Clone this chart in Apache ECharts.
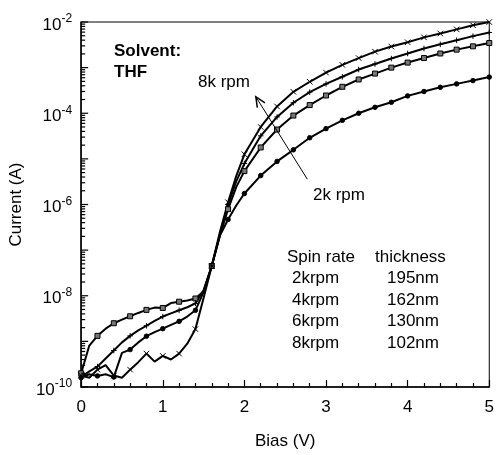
<!DOCTYPE html>
<html>
<head>
<meta charset="utf-8">
<script src="https://cdn.jsdelivr.net/npm/echarts@6/dist/echarts.min.js"></script>
<style>html,body{margin:0;padding:0;background:#fff}#c{width:497px;height:455px}</style>
</head>
<body>
<div id="c"></div>
<script>
// Bias voltages (V)
const biasV = [0,0.1,0.2,0.3,0.4,0.5,0.6,0.7,0.8,0.9,1.0,1.1,1.2,1.3,1.4,1.5,1.6,1.7,1.8,1.9,2.0,
  2.2,2.4,2.6,2.8,3.0,3.2,3.4,3.6,3.8,4.0,4.2,4.4,4.6,4.8,5.0];
// Current (A) for each spin rate
const cur2k = [1.6e-10,1.9e-10,1.75e-10,1.9e-10,1.65e-10,5.6e-10,6.6e-10,9.5e-10,1.3e-9,1.6e-9,1.9e-9,2.3e-9,2.75e-9,3.5e-9,4.8e-9,1.2e-8,4.5e-8,2.1e-7,4.7e-7,9.5e-7,1.74e-6,
  4.3e-6,8.8e-6,1.58e-5,2.9e-5,4.6e-5,7.0e-5,1.0e-4,1.35e-4,1.74e-4,2.4e-4,3.0e-4,3.7e-4,4.4e-4,5.2e-4,6.2e-4];
const cur4k = [2.0e-10,8.1e-10,1.32e-9,1.9e-9,2.5e-9,3.0e-9,3.55e-9,4.2e-9,4.9e-9,5.5e-9,5.4e-9,6.9e-9,7.4e-9,7.9e-9,8.7e-9,1.26e-8,4.5e-8,2.1e-7,7.9e-7,2.4e-6,5.4e-6,
  1.78e-5,4.4e-5,8.9e-5,1.51e-4,2.45e-4,3.8e-4,5.5e-4,7.4e-4,1.0e-3,1.29e-3,1.62e-3,2.04e-3,2.48e-3,2.93e-3,3.46e-3];
const cur6k = [1.66e-10,2.2e-10,2.8e-10,4.2e-10,6.3e-10,9.5e-10,1.32e-9,1.74e-9,2.2e-9,2.8e-9,3.5e-9,4.1e-9,4.8e-9,5.6e-9,6.8e-9,1.32e-8,4.5e-8,2.2e-7,1.0e-6,3.2e-6,7.9e-6,
  3.2e-5,8.3e-5,1.7e-4,2.9e-4,4.4e-4,6.3e-4,9.1e-4,1.2e-3,1.58e-3,2.04e-3,2.63e-3,3.24e-3,3.98e-3,4.9e-3,5.9e-3];
const cur8k = [1.78e-10,1.6e-10,2.4e-10,3.0e-10,1.78e-10,1.6e-10,2.4e-10,3.5e-10,5.4e-10,3.6e-10,4.8e-10,4.0e-10,5.4e-10,8.9e-10,1.86e-9,8.9e-9,4.5e-8,2.5e-7,1.12e-6,4.2e-6,1.26e-5,
  5.0e-5,1.41e-4,2.95e-4,4.9e-4,7.8e-4,1.15e-3,1.62e-3,2.24e-3,2.9e-3,3.6e-3,4.6e-3,5.6e-3,6.9e-3,8.5e-3,1.0e-2];
// Table of spin rate vs thickness
const spinRates = ['2krpm','4krpm','6krpm','8krpm'];
const thicknesses = ['195nm','162nm','130nm','102nm'];
// Axis ticks
const xTicks = [0,1,2,3,4,5];
const yMajorExp = [-10,-9,-8,-7,-6,-5,-4,-3,-2];

const FONT = 'Liberation Sans, Arial, Helvetica, sans-serif';
const SYM_X = 'path://M0,0L10,10M10,0L0,10';
const SYM_PLUS = 'path://M5,0L5,10M0,5L10,5';

function mk(arr) {
  return biasV.map((v, i) => {
    const showSym = Math.abs(Math.round(v * 10) % 2) === 0;
    return showSym ? {value: [v, arr[i]]} : {value: [v, arr[i]], symbol: 'none'};
  });
}
function series(name, arr, sym, size, fill) {
  return {
    name, type: 'line', data: mk(arr), symbol: sym, symbolSize: size, showAllSymbol: true,
    xAxisIndex: 0, yAxisIndex: 0,
    lineStyle: {color: '#000', width: 2},
    itemStyle: {color: fill, borderColor: '#000', borderWidth: 1},
    emphasis: {disabled: true}, animation: false, clip: true, z: 3
  };
}

const majorVals = yMajorExp.map(e => Math.pow(10, e));
const minorVals = [];
for (let e = -10; e < -2; e++) for (let k = 2; k <= 9; k++) minorVals.push(k * Math.pow(10, e));

const chart = echarts.init(document.getElementById('c'), null, {renderer: 'canvas'});
const option = {
  animation: false,
  textStyle: {fontFamily: FONT},
  grid: {left: 76, right: 5, top: 22, bottom: 63, show: true, borderColor: '#000', borderWidth: 1},
  xAxis: {
    type: 'value', min: 0, max: 5, interval: 1,
    name: 'Bias (V)', nameLocation: 'middle', nameGap: 46,
    nameTextStyle: {fontSize: 17, color: '#000', fontFamily: FONT},
    axisLine: {lineStyle: {color: '#000', width: 1.5}},
    axisTick: {inside: true, length: 7, lineStyle: {color: '#000', width: 1.2}},
    minorTick: {show: true, splitNumber: 5, length: 4, lineStyle: {color: '#000', width: 1.2}},
    axisLabel: {fontSize: 17, color: '#000', margin: 12, fontFamily: FONT,
      formatter: v => xTicks.includes(v) ? String(v) : ''},
    splitLine: {show: false}
  },
  yAxis: {
    type: 'log', logBase: 10, min: 1e-10, max: 1e-2,
    name: 'Current (A)', nameLocation: 'middle', nameGap: 44,
    nameTextStyle: {fontSize: 17, color: '#000', fontFamily: FONT},
    axisLine: {lineStyle: {color: '#000', width: 1.5}},
    axisTick: {show: false},
    axisLabel: {
      customValues: majorVals.filter((v, i) => i % 2 === 0),
      margin: 9, color: '#000', fontFamily: FONT,
      formatter: v => '{b|10}{s|' + Math.round(Math.log10(v)) + '}',
      rich: {
        b: {fontSize: 17, color: '#000', fontFamily: FONT, padding: [6, 0, 0, 0]},
        s: {fontSize: 12, color: '#000', fontFamily: FONT, padding: [0, 0, 6, 0]}
      }
    },
    splitLine: {show: false}
  },
  series: [
    series('2krpm', cur2k, 'circle', 4.5, '#000'),
    series('4krpm', cur4k, 'rect', 5, '#777'),
    series('6krpm', cur6k, SYM_PLUS, 5.5, 'none'),
    series('8krpm', cur8k, SYM_X, 5.5, 'none')
  ]
};
chart.setOption(option);

// annotations
const txt = (x, y, s, opt = {}) => ({
  type: 'text', x, y,
  style: Object.assign({text: s, fill: '#000', font: '17px ' + FONT, textVerticalAlign: 'middle'}, opt),
  z: 10
});
const g = [
  txt(114, 51, 'Solvent:', {font: 'bold 17px ' + FONT}),
  txt(114, 72, 'THF', {font: 'bold 17px ' + FONT}),
  txt(198, 82, '8k rpm'),
  txt(313, 195, '2k rpm'),
  txt(287, 257, 'Spin rate'),
  txt(375, 257, 'thickness')
];
const rowsY = [278, 300, 321, 343];
spinRates.forEach((s, i) => {
  g.push(txt(292, rowsY[i], s));
  g.push(txt(387, rowsY[i], thicknesses[i]));
});
// y-axis ticks (log scale: major at decades, minor at 2..9), placed through the axis scale
majorVals.forEach(v => {
  const p = chart.convertToPixel({gridIndex: 0}, [0, v]);
  g.push({type: 'line', shape: {x1: p[0], y1: p[1], x2: p[0] + 7, y2: p[1]},
    style: {stroke: '#000', lineWidth: 1.2}, z: 9});
});
minorVals.forEach(v => {
  const p = chart.convertToPixel({gridIndex: 0}, [0, v]);
  g.push({type: 'line', shape: {x1: p[0], y1: p[1], x2: p[0] + 4, y2: p[1]},
    style: {stroke: '#000', lineWidth: 1.2}, z: 9});
});
// arrow from the 2k rpm curve toward the 8k rpm curve (data coordinates)
const p0 = chart.convertToPixel({gridIndex: 0}, [2.77, 3.6e-6]);
const p1 = chart.convertToPixel({gridIndex: 0}, [2.14, 2.3e-4]);
const dx = p0[0] - p1[0], dy = p0[1] - p1[1], L = Math.hypot(dx, dy);
const ux = dx / L, uy = dy / L, ah = 11, ang = 0.42;
const rot = (a) => [ux * Math.cos(a) - uy * Math.sin(a), ux * Math.sin(a) + uy * Math.cos(a)];
const r1 = rot(ang), r2 = rot(-ang);
g.push({type: 'line', shape: {x1: p0[0], y1: p0[1], x2: p1[0], y2: p1[1]}, style: {stroke: '#000', lineWidth: 1}, z: 10});
g.push({type: 'polyline', shape: {points: [[p1[0] + r1[0] * ah, p1[1] + r1[1] * ah], p1, [p1[0] + r2[0] * ah, p1[1] + r2[1] * ah]]},
  style: {stroke: '#000', lineWidth: 1.5, fill: null}, z: 10});
chart.setOption({graphic: g});
</script>
</body>
</html>
